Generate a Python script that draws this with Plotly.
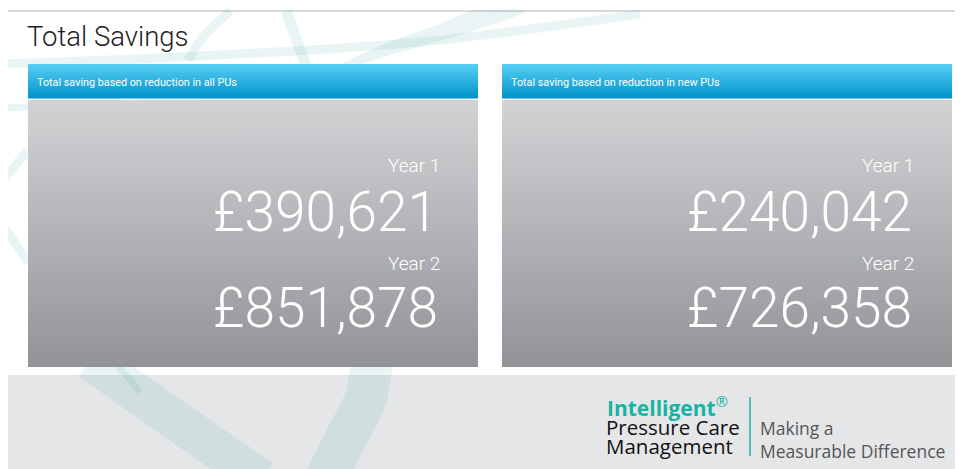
import plotly.graph_objects as go

# data
page_title = "Total Savings"
panel_titles = ["Total saving based on reduction in all PUs",
                "Total saving based on reduction in new PUs"]
year_labels = ["Year 1", "Year 2"]
savings_all_pus = [390621, 851878]
savings_new_pus = [240042, 726358]
panel_values = [savings_all_pus, savings_new_pus]

W, H = 963, 469
PAD = 8  # page body margin, so the plot is shifted back by it
NARROW = "Roboto, Liberation Sans, sans-serif"
LOGO = "Open Sans, Lato, sans-serif"
SWOOSH = "rgba(0,135,125,0.085)"

fig = go.Figure()

# footer band and frame
fig.add_shape(type="rect", x0=5, x1=W + 20, y0=375, y1=H + 20, fillcolor="#e5e6e8",
              line_width=0, layer="below")
fig.add_shape(type="line", x0=5, x1=W + 20, y0=11, y1=11, line=dict(color="#d9d9d9", width=2), layer="below")
fig.add_shape(type="line", x0=5, x1=5, y0=11, y1=H + 20, line=dict(color="#d9d9d9", width=2), layer="below")

# decorative background swooshes
swooshes = [
    ([0, 200, 420, 640], [64, 56, 42, 14], 9),
    ([0, 60, 200], [108, 106, 100], 7),
    ([230, 205, 188], [11, 35, 60], 9),
    ([286, 296, 306], [11, 38, 66], 11),
    ([5, 28], [178, 150], 9),
    ([5, 28], [228, 262], 9),
    ([90, 175, 262], [360, 420, 480], 40),
    ([115, 140], [362, 392], 7),
    ([372, 365, 345, 325], [360, 400, 440, 480], 42),
]
for xs, ys, w in swooshes:
    fig.add_trace(go.Scatter(x=xs, y=ys, mode="lines", line=dict(color=SWOOSH, width=w, shape="spline"),
                             hoverinfo="skip", showlegend=False))
fig.add_trace(go.Scatter(x=[470, 525, 470, 400, 320, 380, 440], y=[11, 11, 32, 52, 76, 46, 24],
                         fill="toself", fillcolor=SWOOSH, mode="none", line_shape="spline",
                         hoverinfo="skip", showlegend=False))


def box(x0, x1, y0, y1, top, bottom):
    fig.add_trace(go.Scatter(
        x=[x0, x1, x1, x0, x0], y=[y0, y0, y1, y1, y0], mode="lines", line=dict(width=0),
        fill="toself",
        fillgradient=dict(type="vertical", colorscale=[[0, top], [1, bottom]], start=y0, stop=y1),
        hoverinfo="skip", showlegend=False))


panel_x = [(28, 478), (502, 952)]
for (x0, x1), title, vals in zip(panel_x, panel_titles, panel_values):
    box(x0, x1, 64, 98.5, "#57cef5", "#0093ca")
    box(x0, x1, 100, 367, "#d2d3d5", "#929397")
    fig.add_annotation(x=x0 + 7, y=82, text=title, showarrow=False, xanchor="left", yanchor="middle",
                       font=dict(family=NARROW, size=10.8, color="white"))
    right = x1 - 36
    for lab, v, yl, yv in zip(year_labels, vals, [165, 263], [212, 308]):
        fig.add_annotation(x=right, y=yl, text=lab, showarrow=False, xanchor="right", yanchor="middle",
                           font=dict(family=NARROW, size=19, color="white", weight=300))
        fig.add_annotation(x=right - 2, y=yv, text=f"£{v:,}", showarrow=False, xanchor="right",
                           yanchor="middle", font=dict(family=NARROW, size=55, color="white", weight=300))

fig.add_annotation(x=25, y=36, text=page_title, showarrow=False, xanchor="left", yanchor="middle",
                   font=dict(family=NARROW, size=27.5, color="#1e1e1e", weight=300))

# logo
fig.add_annotation(x=605, y=406, text="<b>Intelligent</b><sup>®</sup>", showarrow=False, xanchor="left",
                   yanchor="middle", font=dict(family=LOGO, size=21, color="#17b3a3"))
fig.add_annotation(x=604, y=427, text="Pressure Care", showarrow=False, xanchor="left", yanchor="middle",
                   font=dict(family=LOGO, size=20.5, color="#111111"))
fig.add_annotation(x=604, y=446, text="Management", showarrow=False, xanchor="left", yanchor="middle",
                   font=dict(family=LOGO, size=20.5, color="#111111"))
fig.add_shape(type="line", x0=750, x1=750, y0=397, y1=456, line=dict(color="#17b3a3", width=1.5))
fig.add_annotation(x=758, y=439, text="Making a<br>Measurable Difference", showarrow=False,
                   xanchor="left", yanchor="middle", align="left",
                   font=dict(family=LOGO, size=17.5, color="#555555"))

fig.update_xaxes(range=[PAD, W], visible=False, fixedrange=True)
fig.update_yaxes(range=[H, PAD], visible=False, fixedrange=True)
fig.update_layout(width=W - PAD, height=H - PAD, margin=dict(l=0, r=0, t=0, b=0),
                  plot_bgcolor="white", paper_bgcolor="white", showlegend=False)

fig.write_html("out.html")
